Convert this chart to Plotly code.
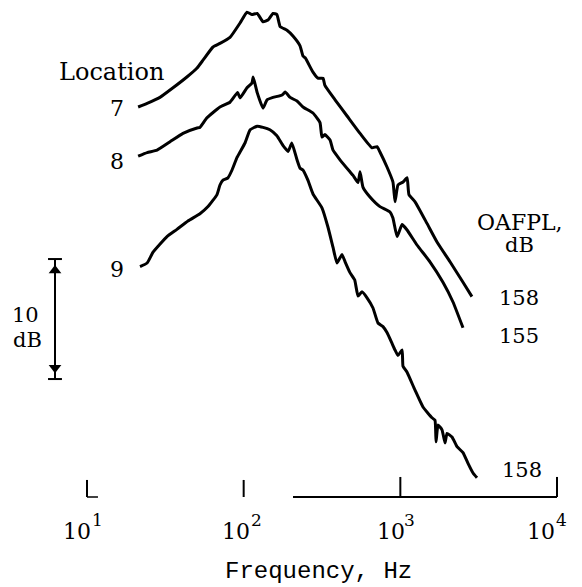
import math
import plotly.graph_objects as go

# ---- data (frequency in Hz, relative level in dB) ----
freq_7 = [21.2, 24.2, 29.2, 35.4, 43.4, 50.4, 55.0, 63.7, 70.6, 81.8, 94.8, 105, 113, 122, 133,
          143, 154, 163, 171, 189, 207, 229, 239, 247, 277, 298, 321, 330, 383, 457, 553, 659,
          710, 741, 822, 897, 925, 966, 1040, 1104, 1135, 1242, 1479, 1714, 2075, 2512, 2864]
level_7 = [32.5, 32.8, 33.3, 34.1, 35.0, 35.75, 36.4, 37.5, 37.8, 38.3, 39.5, 40.4, 40.2, 40.3, 39.6,
           39.75, 40.3, 40.2, 39.2, 38.9, 38.4, 37.6, 36.75, 36.6, 35.4, 34.9, 34.9, 34.3, 33.1, 31.75,
           30.3, 29.1, 29.2, 28.75, 27.5, 26.25, 24.6, 26.0, 26.25, 26.6, 25.2, 24.6, 22.8, 21.25,
           19.6, 17.9, 16.7]

freq_8 = [21.2, 24.2, 28.0, 33.9, 41.0, 50.4, 52.6, 58.3, 70.6, 81.8, 91.5, 94.8, 105, 113, 115,
          122, 133, 141, 154, 176, 184, 198, 219, 239, 277, 307, 316, 330, 356, 372, 412, 477,
          499, 537, 553, 578, 640, 741, 859, 897, 953, 1026, 1104, 1277, 1545, 1871, 2168, 2512]
level_8 = [28.4, 28.7, 28.9, 29.6, 30.3, 30.75, 30.8, 31.6, 32.5, 32.9, 33.7, 33.25, 34.1, 34.5, 35.0,
           33.7, 32.4, 33.1, 33.3, 33.5, 33.75, 33.3, 33.0, 32.5, 32.0, 31.2, 30.0, 30.2, 29.75,
           28.9, 28.1, 27.1, 26.8, 26.2, 27.1, 25.8, 25.0, 24.2, 23.75, 23.25, 21.7, 22.7, 22.25,
           21.0, 19.6, 17.9, 16.25, 14.1]

freq_9 = [21.8, 24.2, 26.4, 32.4, 37.5, 44.1, 52.6, 59.2, 67.6, 70.6, 73.8, 79.4, 84.3, 90.7, 94.8,
          102, 110, 122, 133, 147, 163, 178, 192, 203, 219, 229, 239, 257, 277, 316, 345, 372,
          394, 424, 444, 477, 511, 537, 569, 613, 669, 720, 775, 822, 885, 925, 966, 1026, 1040,
          1104, 1241, 1395, 1593, 1664, 1690, 1740, 1845, 1929, 1986, 2137, 2300, 2512, 2704,
          2910, 3086]
level_9 = [19.2, 19.5, 20.4, 21.7, 22.3, 23.0, 23.6, 24.2, 25.2, 26.0, 26.4, 26.6, 27.25, 28.3, 28.75,
           29.5, 30.6, 30.9, 30.8, 30.6, 30.1, 29.3, 28.8, 29.5, 28.1, 27.4, 27.25, 26.4, 25.25,
           24.1, 22.5, 20.8, 19.5, 20.2, 19.6, 18.7, 18.1, 16.75, 17.1, 16.6, 15.75, 14.5, 14.2,
           13.7, 12.8, 12.25, 11.8, 12.25, 10.9, 10.4, 8.9, 7.5, 6.6, 6.4, 4.6, 6.0, 5.6, 4.5,
           5.3, 5.0, 4.2, 3.7, 2.8, 2.0, 1.6]

locations = ["7", "8", "9"]
oafpl_db = [158, 155, 158]
tick_freqs = [10, 100, 1000, 10000]
tick_exponents = ["1", "2", "3", "4"]
scale_bar_db = 10

# ---- figure (page body adds an 8 px offset) ----
OFF = 8
W, H = 582 - OFF, 587 - OFF
X_RANGE = [0.4958, 4.1595]     # log10(Hz)
Y_RANGE = [-7.5, 40.75]        # dB
SERIF = "DejaVu Serif"
INK = "black"

fig = go.Figure()

for f, lv in [(freq_7, level_7), (freq_8, level_8), (freq_9, level_9)]:
    fig.add_trace(go.Scatter(x=f, y=lv, mode="lines",
                             line=dict(color=INK, width=3, shape="spline", smoothing=0.4),
                             hoverinfo="skip"))

# partial frequency axis baseline
fig.add_trace(go.Scatter(x=[206.5, 10000], y=[0, 0], mode="lines",
                         line=dict(color=INK, width=2), hoverinfo="skip"))
tick_tops = [1.42, 1.42, 1.67, 1.67]
for tf, tt in zip(tick_freqs, tick_tops):
    fig.add_trace(go.Scatter(x=[tf, tf], y=[tt, 0], mode="lines",
                             line=dict(color=INK, width=2), hoverinfo="skip"))
# little foot on the 10^1 tick
fig.add_trace(go.Scatter(x=[10, 11.75], y=[0, 0], mode="lines",
                         line=dict(color=INK, width=1.5), hoverinfo="skip"))

# 10 dB scale bar
sb_x = 6.25
sb_bottom = 9.83
sb_top = sb_bottom + scale_bar_db
fig.add_trace(go.Scatter(x=[sb_x, sb_x], y=[sb_bottom, sb_top], mode="lines",
                         line=dict(color=INK, width=2), hoverinfo="skip"))
for yy in (sb_bottom, sb_top):
    fig.add_trace(go.Scatter(x=[5.64, 6.92], y=[yy, yy], mode="lines",
                             line=dict(color=INK, width=2), hoverinfo="skip"))
fig.add_trace(go.Scatter(x=[sb_x], y=[sb_top - 0.95], mode="markers",
                         marker=dict(symbol="triangle-up", size=11, color=INK), hoverinfo="skip"))
fig.add_trace(go.Scatter(x=[sb_x], y=[sb_bottom + 0.95], mode="markers",
                         marker=dict(symbol="triangle-down", size=11, color=INK), hoverinfo="skip"))


def px_note(text, px, py, size, family=SERIF, anchor="center"):
    fig.add_annotation(text=text, x=(px - OFF) / W, y=1 - (py - OFF) / H,
                       xref="paper", yref="paper",
                       showarrow=False, xanchor=anchor, yanchor="middle",
                       font=dict(family=family, size=size, color=INK))


px_note("Location", 111, 72, 24)
for loc, py in zip(locations, [108, 161, 269]):
    px_note(loc, 117, py, 22)

px_note("OAFPL,", 520, 222, 22)
px_note("dB", 519, 245, 21)
for val, (px, py) in zip(oafpl_db, [(519, 298), (519, 336), (522, 470)]):
    px_note(str(val), px, py, 21)

px_note("10", 25, 315, 21)
px_note("dB", 27, 340, 21)

# tick labels 10^n
base_off = [-9.5, -8, -9, -16]
exp_off = [11, 12.5, 9.5, 4]
for tf, ex, bo, eo in zip(tick_freqs, tick_exponents, base_off, exp_off):
    fig.add_annotation(text="10", x=math.log10(tf), y=0, xref="x", yref="y", showarrow=False,
                       xanchor="center", yanchor="middle", xshift=bo, yshift=-34,
                       font=dict(family=SERIF, size=22, color=INK))
    fig.add_annotation(text=ex, x=math.log10(tf), y=0, xref="x", yref="y", showarrow=False,
                       xanchor="center", yanchor="middle", xshift=eo, yshift=-23,
                       font=dict(family=SERIF, size=17, color=INK))

px_note("Frequency, Hz", 318.5, 571, 24, family="Liberation Mono")

fig.update_layout(
    width=W, height=H,
    margin=dict(l=0, r=0, t=0, b=0),
    paper_bgcolor="white", plot_bgcolor="white",
    showlegend=False,
    xaxis=dict(type="log", range=X_RANGE, visible=False, fixedrange=True),
    yaxis=dict(range=Y_RANGE, visible=False, fixedrange=True),
)

fig.write_html("out.html")
